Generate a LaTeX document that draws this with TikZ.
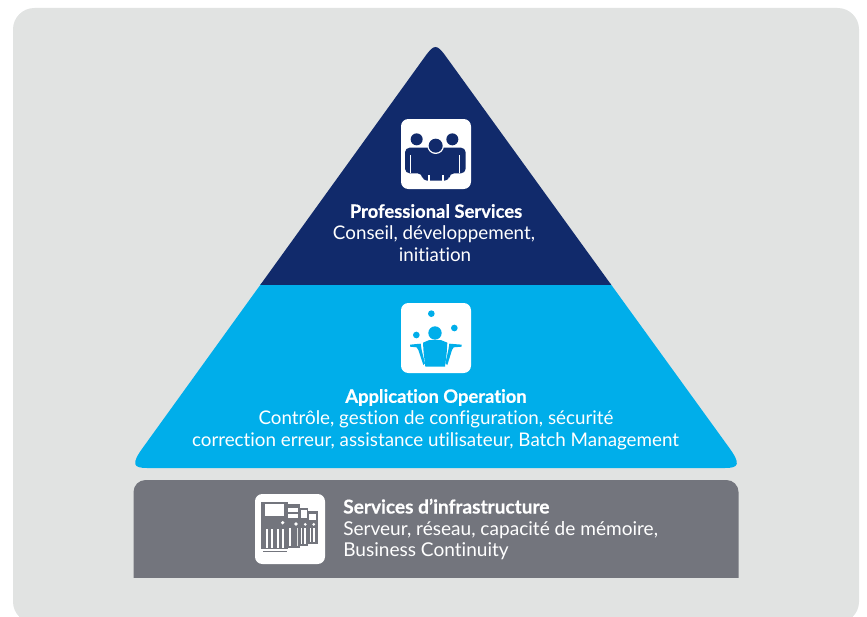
\documentclass[tikz,border=0pt]{standalone}
\usepackage{fontspec}
\setmainfont{Lato}[Ligatures=NoCommon,BoldFeatures={FakeBold=0.5}]
\definecolor{bgc}{HTML}{E1E3E2}
\definecolor{darkb}{HTML}{112A6B}
\definecolor{cyanb}{HTML}{00AEEA}
\definecolor{greyb}{HTML}{73757D}
\tikzset{
  head/.style={font=\fontsize{13.8}{16}\selectfont\bfseries,text=white,inner sep=0pt,anchor=base},
  body/.style={font=\fontsize{14.1}{16}\selectfont,text=white,inner sep=0pt,anchor=base},
  headwide/.style={font=\fontsize{14.3}{16}\selectfont\bfseries,text=white,inner sep=0pt,anchor=base west},
  bodywide/.style={font=\fontsize{14.3}{16}\selectfont,text=white,inner sep=0pt,anchor=base west},
  iconbox/.style={fill=white,rounded corners=5.5pt},
}
\begin{document}
\begin{tikzpicture}[x=0.75pt,y=-0.75pt]
\useasboundingbox (0,0) rectangle (867,617);
\begin{scope}
\clip (0,0) rectangle (867,617);
\fill[bgc,rounded corners=16pt] (13,8) rectangle (859,623);
\end{scope}
% pyramid
\def\pyr{(425,56.6) .. controls (434.2,43.8) and (436.8,43.8) .. (446,56.6) -- (729,447.5) .. controls (741,464) and (739,468) .. (725,468) -- (147,468) .. controls (133,468) and (131,464) .. (143,447.5) -- cycle}
\begin{scope}
\clip (0,283.5) rectangle (867,617);
\fill[cyanb] \pyr;
\end{scope}
\begin{scope}
\clip (0,0) rectangle (867,284);
\fill[darkb] \pyr;
\end{scope}
% grey band
\begin{scope}
\clip (0,400) rectangle (867,577.5);
\fill[greyb,rounded corners=9pt] (133.5,480) rectangle (738.5,600);
\end{scope}
% icon boxes
\fill[iconbox] (401,119) rectangle (471,189);
\fill[iconbox] (401,303) rectangle (471,373);
\fill[iconbox] (255,494) rectangle (325,564);
% people icon
\begin{scope}[shift={(390,110)},x=0.25pt,y=-0.25pt]
 \fill[darkb] (80,88) circle (18);
 \fill[darkb] (187,88) circle (18);
 \fill[darkb,rounded corners=3.5pt] (45,190) -- (45,113) -- (227,113) -- (227,190) -- (178,190) -- (178,212) -- (97,212) -- (97,190) -- cycle;
 \fill[white] (137,107) circle (25);
 \fill[darkb] (137,107) circle (21);
 \draw[white,line width=0.7pt] (62,135) -- (62,190);
 \draw[white,line width=0.7pt] (208,135) -- (208,190);
 \fill[white] (114,194) rectangle (119,212);
 \fill[white] (156,194) rectangle (161,212);
\end{scope}
% juggler icon
\begin{scope}[shift={(390,295)},x=0.25pt,y=-0.25pt]
 \fill[cyanb] (124,56) circle (10);
 \fill[cyanb] (193,99) circle (10);
 \fill[cyanb] (79,120) circle (10);
 \fill[cyanb] (135,114) circle (20);
 \fill[cyanb] (118,135) -- (152,135) -- (172,143) -- (170,175) -- (165,215) -- (106,215) -- (101,175) -- (99,143) -- cycle;
 \fill[cyanb] (60,149) -- (92,146) -- (95,165) -- (105,205) -- (100,210) -- (85,165) -- (80,157) -- (60,155) -- cycle;
 \fill[cyanb] (215,149) -- (178,146) -- (175,165) -- (166,205) -- (172,210) -- (186,165) -- (191,157) -- (215,155) -- cycle;
\end{scope}
% server icon
\begin{scope}[shift={(245,485)},x=0.25pt,y=-0.25pt]
 \fill[greyb] (48,50) rectangle (128,193);
 \fill[white] (60,58) rectangle (118,92);
 \fill[greyb] (128,58) rectangle (166,188);
 \fill[white] (130,70) rectangle (160,82);
 \fill[white] (130,86) rectangle (160,98);
 \fill[greyb] (166,68) rectangle (190,183);
 \fill[white] (168,76) rectangle (187,100);
 \fill[greyb] (190,78) rectangle (218,177);
 \fill[white] (193,86) rectangle (212,105);
 \fill[white] (113,113) circle (5.5);
 \fill[white] (153,117) circle (5.5);
 \fill[white] (181,118) circle (4.5);
 \fill[white] (206,118) circle (4.5);
 \foreach \x in {62,79,95,111} {\fill[white] (\x,132) rectangle (\x+6,188);}
 \fill[white] (133,130) rectangle (138,182);
 \fill[bgc] (155,130) rectangle (159,182);
 \foreach \x in {168,178} {\fill[white] (\x,130) rectangle (\x+4,176);}
 \foreach \x in {194,205} {\fill[white] (\x,130) rectangle (\x+4,171);}
 \fill[greyb] (54,197) rectangle (126,202);
\end{scope}
% text
\node[head] (ps) at (436,217.8) {Professional Services};
\node[body] (ps1) at (434,239) {Conseil, développement,};
\node[body] (ps2) at (435,261) {initiation};
\node[head] (ao) at (436,402.8) {Application Operation};
\node[body] (ao1) at (436,424) {Contrôle, gestion de configuration, sécurité};
\node[body] (ao2) at (435.5,446) {correction erreur, assistance utilisateur, Batch Management};
\node[headwide] (si) at (343,513.5) {Services d’infrastructure};
\node[bodywide] (si1) at (343,535.5) {Serveur, réseau, capacité de mémoire,};
\node[bodywide] (si2) at (343,556.5) {Business Continuity};
\end{tikzpicture}
\end{document}
